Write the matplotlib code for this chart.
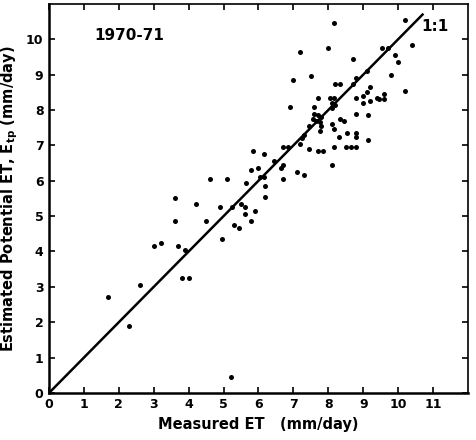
import matplotlib
matplotlib.use("Agg")
import matplotlib.pyplot as plt

# measured vs estimated potential ET, 1970-71
measured_et = [1.7, 2.3, 2.6, 3.0, 3.2, 3.6, 3.6, 3.7, 3.9, 3.8, 4.0, 4.2, 4.5, 4.6,
               4.9, 4.95, 5.1, 5.2, 5.25, 5.3, 5.45, 5.5, 5.6, 5.6, 5.65, 5.8, 5.8,
               5.85, 5.9, 6.0, 6.05, 6.15, 6.15, 6.2, 6.2, 6.45, 6.65, 6.7, 6.7, 6.7,
               6.85, 6.9, 7.0, 7.1, 7.2, 7.2, 7.25, 7.3, 7.3, 7.45, 7.45, 7.5, 7.6,
               7.7, 7.55, 7.6, 7.7, 7.8, 7.65, 7.75, 7.8, 7.75, 7.7, 7.85, 8.0, 8.05,
               8.15, 8.1, 8.2, 8.1, 8.15, 8.2, 8.35, 8.1, 8.15, 8.15, 8.1, 8.3, 8.35,
               8.45, 8.5, 8.65, 8.8, 8.55, 8.7, 8.7, 8.8, 8.8, 8.8, 8.8, 8.8, 9.0,
               9.0, 9.1, 9.1, 9.2, 9.2, 9.15, 9.15, 9.4, 9.45, 9.6, 9.6, 9.55, 9.7,
               9.8, 9.9, 10.0, 10.2, 10.2, 10.4]
estimated_et = [2.7, 1.9, 3.05, 4.15, 4.25, 5.5, 4.85, 4.15, 4.05, 3.25, 3.25, 5.35, 4.85,
                6.05, 5.25, 4.35, 6.05, 0.45, 5.25, 4.75, 4.65, 5.35, 5.25, 5.05, 5.95,
                4.85, 6.3, 6.85, 5.15, 6.35, 6.1, 6.75, 6.1, 5.85, 5.55, 6.55, 6.35,
                6.45, 6.05, 6.95, 6.95, 8.1, 8.85, 6.25, 9.65, 7.05, 7.2, 7.3, 6.15,
                7.55, 6.9, 8.95, 8.1, 8.35, 7.75, 7.9, 7.85, 7.8, 7.7, 7.65, 7.55, 7.4,
                6.85, 6.85, 9.75, 8.35, 8.35, 8.2, 8.15, 8.05, 10.45, 8.75, 8.75, 7.6,
                7.45, 6.95, 6.45, 7.25, 7.75, 7.7, 6.95, 6.95, 6.95, 7.35, 9.45, 8.75,
                8.9, 8.35, 7.9, 7.35, 7.25, 8.4, 8.2, 9.1, 8.5, 8.65, 8.25, 7.85, 7.15,
                8.35, 8.3, 8.45, 8.3, 9.75, 9.75, 9.0, 9.55, 9.35, 10.55, 8.55, 9.85]

x_ticks = list(range(0, 12))
y_ticks = list(range(0, 11))
line_end = 10.7

fig = plt.figure(figsize=(4.76, 4.4), dpi=100)
ax = fig.add_axes([0.103, 0.107, 0.880, 0.884])

ax.plot(measured_et, estimated_et, "o", color="black", markersize=3.6, markeredgewidth=0)
ax.plot([0, line_end], [0, line_end], color="black", linewidth=1.8)

ax.set_xlim(0, 12)
ax.set_ylim(0, 11)
ax.set_xticks(x_ticks)
ax.set_yticks(y_ticks)
ax.tick_params(direction="in", top=True, right=True, length=4, width=1.2,
               labelsize=9, pad=4)
for lab in ax.get_xticklabels() + ax.get_yticklabels():
    lab.set_fontweight("bold")

for side in ["left", "bottom"]:
    ax.spines[side].set_linewidth(1.8)
for side in ["top", "right"]:
    ax.spines[side].set_linewidth(1.2)

ax.set_xlabel("Measured ET   (mm/day)", fontsize=10.5, fontweight="bold", labelpad=4)
ax.set_ylabel("Estimated Potential ET, E$_{\\mathbf{tp}}$ (mm/day)", fontsize=10.5,
              fontweight="bold", labelpad=4)

ax.text(2.3, 10.1, "1970-71", fontsize=11, fontweight="bold", ha="center", va="center")
ax.text(11.05, 10.35, "1:1", fontsize=11, fontweight="bold", ha="center", va="center")

fig.savefig("out.png", dpi=100)
